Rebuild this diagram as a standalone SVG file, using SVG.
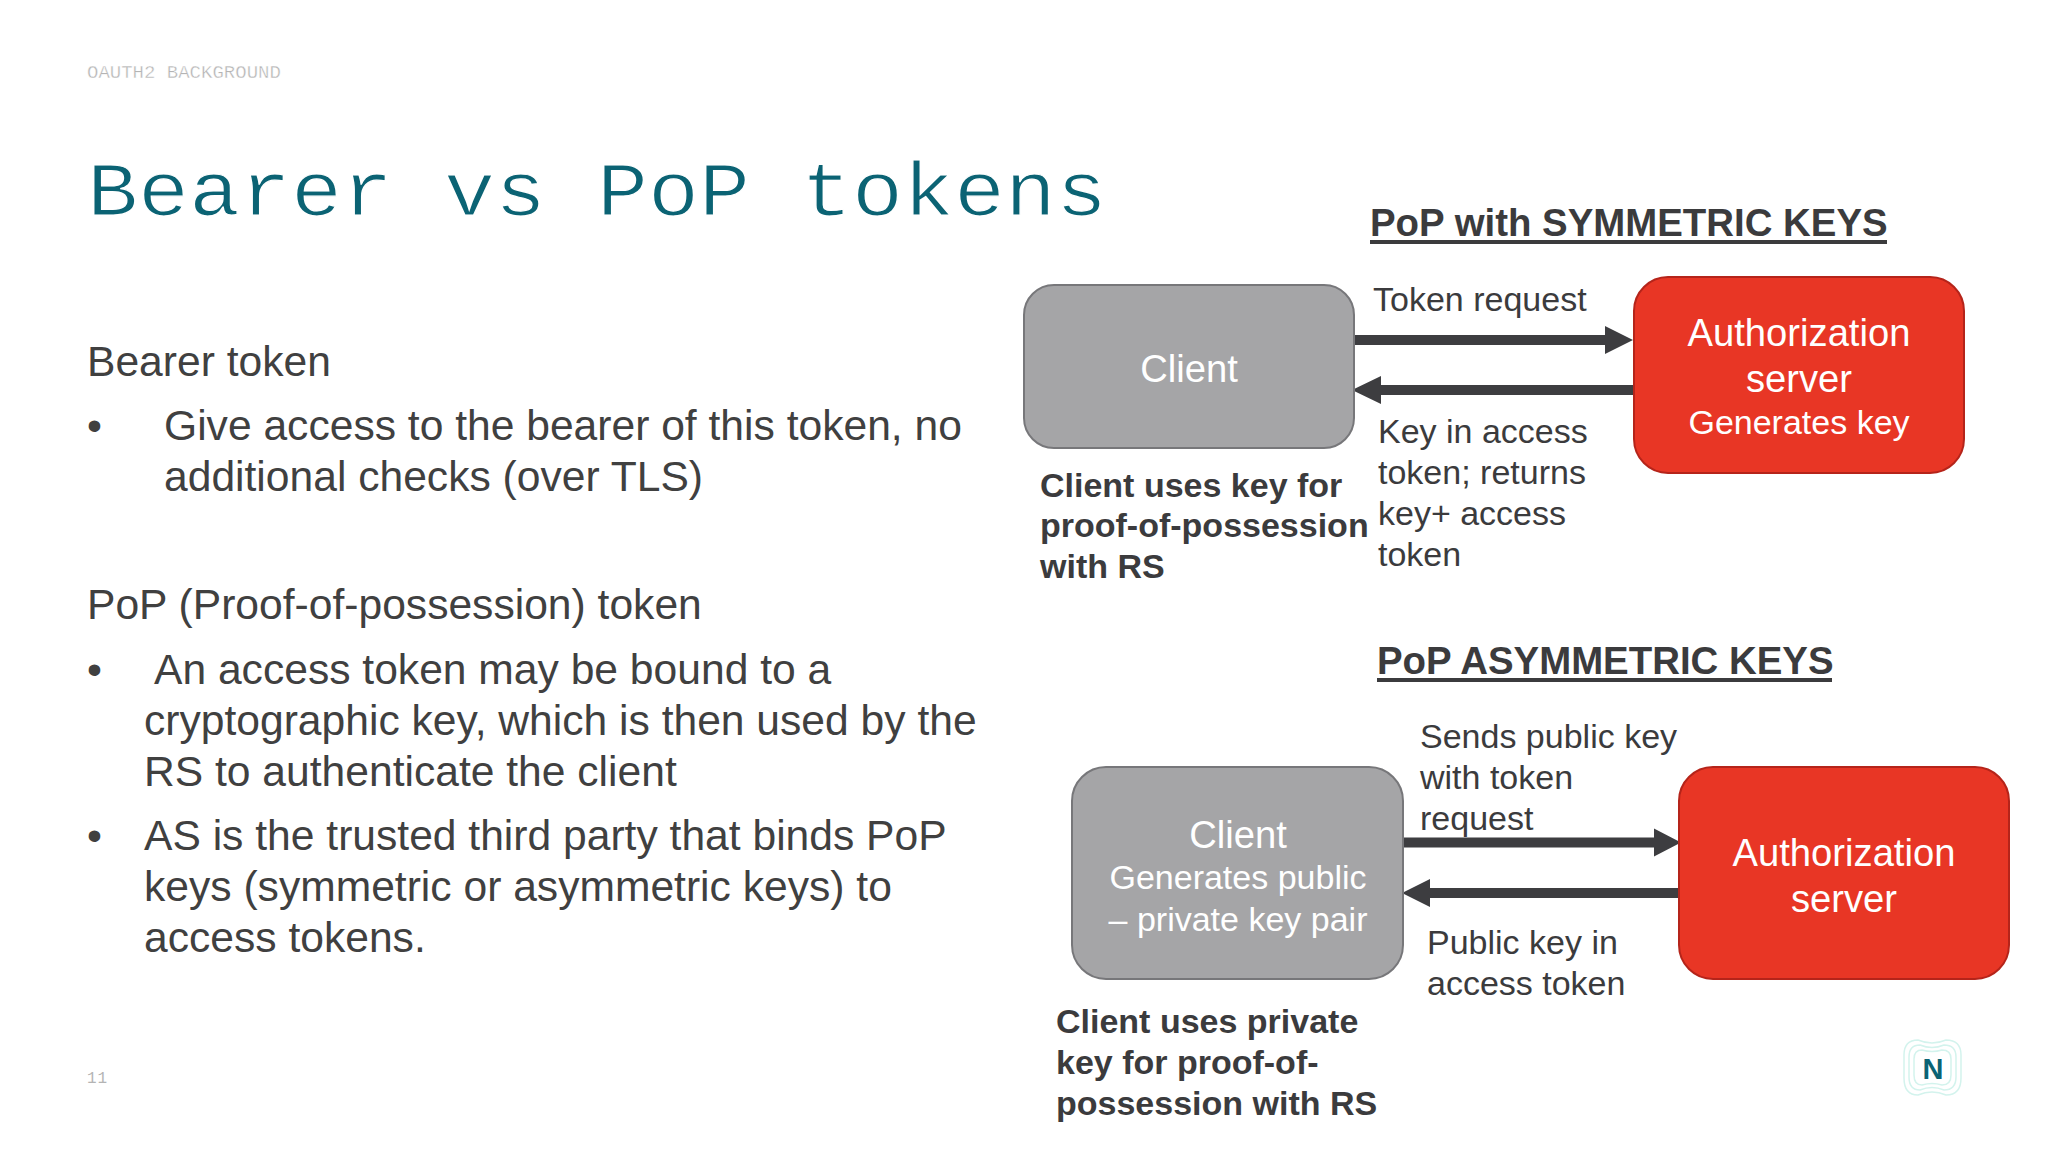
<svg xmlns="http://www.w3.org/2000/svg" width="2048" height="1152" viewBox="0 0 2048 1152">
<style>
text{font-family:"Liberation Sans",Arial,sans-serif}
.body{font-size:42.6px;fill:#404040}
.lab{font-size:34px;fill:#3b3b3d}
.note{font-size:34px;font-weight:bold;fill:#3b3b3d}
.hd{font-size:38.4px;font-weight:bold;fill:#3b3b3d}
.w{fill:#fff;text-anchor:middle}
.w1{font-size:38.2px}.w2{font-size:34px}
.grey{fill:#a5a5a7;stroke:#77777a;stroke-width:2}
.red{fill:#e83625;stroke:#b5241a;stroke-width:2}
.bar{fill:#3d3d40}
.wave{fill:none;stroke:#d3f3ed;stroke-width:1.5}
</style>
<rect width="2048" height="1152" fill="#fff"/>
<text x="87" y="78" font-size="19" fill="#b4b4b4" stroke="#fff" stroke-width="0.4" style="font-family:'Liberation Mono',monospace">OAUTH2 BACKGROUND</text>
<text transform="translate(87 215) scale(1 0.89)" font-size="85" fill="#0b6374" stroke="#fff" stroke-width="1.4" style="font-family:'Liberation Mono',monospace">Bearer vs PoP tokens</text>
<g id="body">
<text class="body" x="87" y="376">Bearer token</text>
<text class="body" x="87" y="439.500">•</text>
<text class="body" x="164" y="439.500">Give access to the bearer of this token, no</text>
<text class="body" x="164" y="491">additional checks (over TLS)</text>
<text class="body" x="87" y="618.500">PoP (Proof-of-possession) token</text>
<text class="body" x="87" y="683.500">•</text>
<text class="body" x="154" y="683.500">An access token may be bound to a</text>
<text class="body" x="144" y="734.500">cryptographic key, which is then used by the</text>
<text class="body" x="144" y="785.500">RS to authenticate the client</text>
<text class="body" x="87" y="849.500">•</text>
<text class="body" x="144" y="849.500">AS is the trusted third party that binds PoP</text>
<text class="body" x="144" y="901">keys (symmetric or asymmetric keys) to</text>
<text class="body" x="144" y="952">access tokens.</text>
</g>
<text x="87" y="1083" font-size="16" fill="#b4b4b4" letter-spacing="1" style="font-family:'Liberation Mono',monospace">11</text>

<text id="head-sym" class="hd" x="1370" y="236">PoP with SYMMETRIC KEYS</text>
<rect x="1370" y="240" width="517" height="4" fill="#3b3b3d"/>
<text id="head-asym" class="hd" x="1377" y="674">PoP ASYMMETRIC KEYS</text>
<rect x="1377" y="678" width="455" height="4" fill="#3b3b3d"/>

<g id="connectors">
<path class="bar" d="M1354 335H1605V326L1633 340L1605 354V345H1354Z"/>
<path class="bar" d="M1633 385H1381V376L1352 390L1381 404V395H1633Z"/>
<path class="bar" d="M1403 837.500H1654V828.500L1681 842.500L1654 856.500V847.500H1403Z"/>
<path class="bar" d="M1678 888H1430V879L1402 893L1430 907V898H1678Z"/>
</g>

<g id="client-sym">
<rect class="grey" x="1024" y="285" width="330" height="163" rx="30"/>
<text class="w w1" x="1189" y="382">Client</text>
</g>
<g id="as-sym">
<rect class="red" x="1634" y="277" width="330" height="196" rx="34"/>
<text class="w w1" x="1799" y="346">Authorization</text>
<text class="w w1" x="1799" y="392">server</text>
<text class="w w2" x="1799" y="434">Generates key</text>
</g>
<g id="client-asym">
<rect class="grey" x="1072" y="767" width="331" height="212" rx="34"/>
<text class="w w1" x="1238" y="848">Client</text>
<text class="w w2" x="1238" y="889">Generates public</text>
<text class="w w2" x="1238" y="931">– private key pair</text>
</g>
<g id="as-asym">
<rect class="red" x="1679" y="767" width="330" height="212" rx="34"/>
<text class="w w1" x="1844" y="866">Authorization</text>
<text class="w w1" x="1844" y="912">server</text>
</g>

<g id="labels">
<text class="lab" x="1373" y="311">Token request</text>
<text class="lab" x="1378" y="443">Key in access</text>
<text class="lab" x="1378" y="484">token; returns</text>
<text class="lab" x="1378" y="525">key+ access</text>
<text class="lab" x="1378" y="566">token</text>
<text class="note" x="1040" y="497">Client uses key for</text>
<text class="note" x="1040" y="537">proof-of-possession</text>
<text class="note" x="1040" y="578">with RS</text>
<text class="lab" x="1420" y="747.500">Sends public key</text>
<text class="lab" x="1420" y="788.500">with token</text>
<text class="lab" x="1420" y="829.500">request</text>
<text class="lab" x="1427" y="954">Public key in</text>
<text class="lab" x="1427" y="995">access token</text>
<text class="note" x="1056" y="1032.500">Client uses private</text>
<text class="note" x="1056" y="1073.500">key for proof-of-</text>
<text class="note" x="1056" y="1114.500">possession with RS</text>
</g>

<g id="logo">
<path class="wave" d="M1918 1040Q1932 1046 1946 1040Q1961 1040 1961 1055V1078Q1961 1095 1946 1095Q1932 1089 1918 1095Q1904 1095 1904 1078V1055Q1904 1040 1918 1040Z"/>
<path class="wave" d="M1920 1045Q1932 1050 1944 1045Q1956 1045 1956 1057V1077Q1956 1090 1944 1090Q1932 1085 1920 1090Q1909 1090 1909 1077V1057Q1909 1045 1920 1045Z"/>
<path class="wave" d="M1922 1050Q1932 1053 1942 1050Q1951 1050 1951 1059V1075Q1951 1085 1942 1085Q1932 1082 1922 1085Q1914 1085 1914 1075V1059Q1914 1050 1922 1050Z"/>
<text x="1933" y="1079" font-size="29" font-weight="bold" fill="#0b6374" text-anchor="middle">N</text>
</g>
</svg>
